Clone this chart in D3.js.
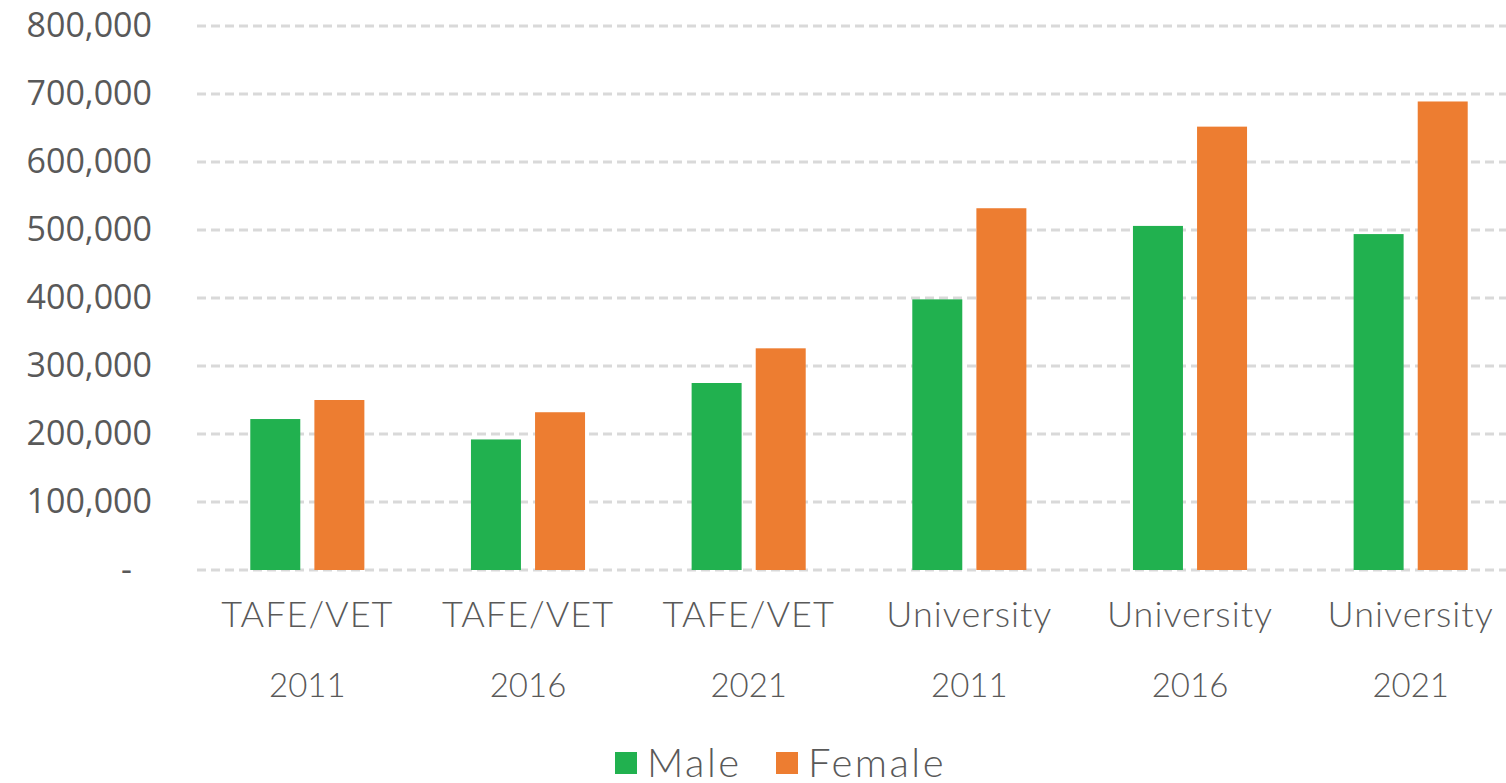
<!DOCTYPE html>
<html>
<head>
<meta charset="utf-8">
<script src="https://cdn.jsdelivr.net/npm/d3@7"></script>
<style>
  body { margin: 0; background: #fff; overflow: hidden; }
  svg { display: block; }
</style>
</head>
<body>
<div id="chart"></div>
<script>
// data
var sectors = ["TAFE/VET", "TAFE/VET", "TAFE/VET", "University", "University", "University"];
var years = ["2011", "2016", "2021", "2011", "2016", "2021"];
var male = [222000, 192000, 275000, 398000, 506000, 494000];
var female = [250000, 232000, 326000, 532000, 652000, 689000];
var seriesNames = ["Male", "Female"];
var seriesColors = ["#21b14f", "#ed7d31"];
var yTicks = [0, 100000, 200000, 300000, 400000, 500000, 600000, 700000, 800000];

var w = 1506, h = 783;
var plotLeft = 197, plotRight = 1521, plotTop = 26, plotBottom = 570;

var svg = d3.select("#chart").append("svg")
    .attr("width", w)
    .attr("height", h);

var keys = d3.range(sectors.length);

var x0 = d3.scaleBand()
    .domain(keys)
    .range([plotLeft, plotRight])
    .paddingInner(0.483)
    .paddingOuter(0.2415);

var x1 = d3.scaleBand()
    .domain(seriesNames)
    .range([0, x0.bandwidth()])
    .paddingInner(0.22);

var y = d3.scaleLinear()
    .domain([0, 800000])
    .range([plotBottom, plotTop]);

// gridlines
svg.append("g").selectAll("line")
    .data(yTicks)
    .enter()
    .append("line")
    .attr("x1", plotLeft)
    .attr("x2", w)
    .attr("y1", function (d) { return y(d); })
    .attr("y2", function (d) { return y(d); })
    .attr("stroke", "#d9d9d9")
    .attr("stroke-width", 3)
    .attr("stroke-dasharray", "9,5");

// y axis labels
var fmt = d3.format(",");
var yAxis = d3.axisLeft(y)
    .tickValues(yTicks)
    .tickSize(0)
    .tickPadding(0)
    .tickFormat(function (d) { return d === 0 ? "-" : fmt(d); });

var gy = svg.append("g")
    .attr("transform", "translate(152,0)")
    .call(yAxis);
gy.select(".domain").remove();
gy.selectAll("text")
    .attr("font-family", "'Open Sans', sans-serif")
    .attr("font-size", 34)
    .attr("fill", "#595959")
    .attr("dx", function (d) { return d === 0 ? -20 : 0; });

// bars
var groups = svg.append("g").selectAll("g")
    .data(keys)
    .enter()
    .append("g")
    .attr("transform", function (i) { return "translate(" + x0(i) + ",0)"; });

groups.selectAll("rect")
    .data(function (i) {
        return [{ s: "Male", v: male[i], c: seriesColors[0] },
                { s: "Female", v: female[i], c: seriesColors[1] }];
    })
    .enter()
    .append("rect")
    .attr("x", function (d) { return x1(d.s); })
    .attr("y", function (d) { return y(d.v); })
    .attr("width", x1.bandwidth())
    .attr("height", function (d) { return y(0) - y(d.v); })
    .attr("fill", function (d) { return d.c; });

// x axis labels (two rows)
var xl = svg.append("g")
    .attr("font-family", "Lato, sans-serif")
    .attr("font-weight", 300)
    .attr("fill", "#595959")
    .attr("text-anchor", "middle");

xl.selectAll("text.sec")
    .data(keys)
    .enter()
    .append("text")
    .attr("class", "sec")
    .attr("font-size", 36)
    .attr("letter-spacing", 1)
    .attr("x", function (i) { return x0(i) + x0.bandwidth() / 2; })
    .attr("y", 627)
    .text(function (i) { return sectors[i]; });

xl.selectAll("text.yr")
    .data(keys)
    .enter()
    .append("text")
    .attr("class", "yr")
    .attr("font-size", 33)
    .attr("x", function (i) { return x0(i) + x0.bandwidth() / 2; })
    .attr("y", 697)
    .text(function (i) { return years[i]; });

// legend
var legend = svg.append("g")
    .attr("font-family", "Lato, sans-serif")
    .attr("font-weight", 300)
    .attr("font-size", 40)
    .attr("letter-spacing", 2.5)
    .attr("fill", "#595959");

var legendX = [615, 776];
legend.selectAll("rect")
    .data(seriesNames)
    .enter()
    .append("rect")
    .attr("x", function (d, i) { return legendX[i]; })
    .attr("y", 752)
    .attr("width", 22)
    .attr("height", 22)
    .attr("fill", function (d, i) { return seriesColors[i]; });

legend.selectAll("text")
    .data(seriesNames)
    .enter()
    .append("text")
    .attr("x", function (d, i) { return legendX[i] + 32; })
    .attr("y", 777)
    .text(function (d) { return d; });
</script>
</body>
</html>
